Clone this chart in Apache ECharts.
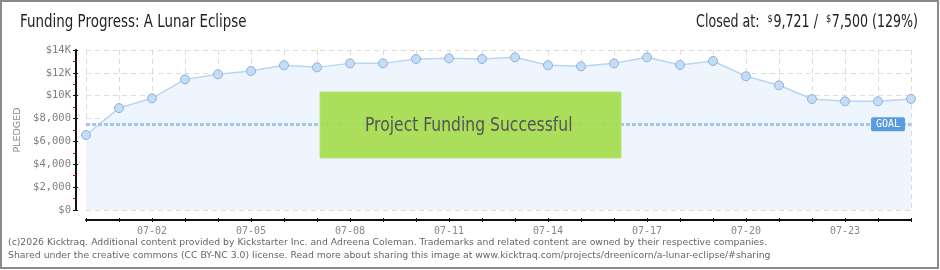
<!DOCTYPE html>
<html>
<head>
<meta charset="utf-8">
<script src="https://cdn.jsdelivr.net/npm/echarts@6/dist/echarts.min.js"></script>
<style>
html,body{margin:0;padding:0;background:#fff;overflow:hidden;}
#c{width:940px;height:270px;}
</style>
</head>
<body>
<div id="c"></div>
<script>
const categories = ['06-30','07-01','07-02','07-03','07-04','07-05','07-06','07-07','07-08','07-09','07-10','07-11','07-12','07-13','07-14','07-15','07-16','07-17','07-18','07-19','07-20','07-21','07-22','07-23','07-24','07-25'];
const pledged = [6560,8920,9770,11430,11870,12160,12660,12480,12830,12830,13210,13270,13210,13360,12660,12570,12830,13360,12690,13040,11700,10910,9710,9510,9510,9721];
const goal = 7500;
const yTickLabels = {0:'$0',2000:'$2,000',4000:'$4,000',6000:'$6,000',8000:'$8,000',10000:'$10K',12000:'$12K',14000:'$14K'};
const titleText = 'Funding Progress: A Lunar Eclipse';
const closedAmount = '9,721';
const goalAmount = '7,500';
const percent = '129%';
const statusText = 'Project Funding Successful';
const footer1 = '(c)2026 Kicktraq. Additional content provided by Kickstarter Inc. and Adreena Coleman. Trademarks and related content are owned by their respective companies.';
const footer2 = 'Shared under the creative commons (CC BY-NC 3.0) license. Read more about sharing this image at www.kicktraq.com/projects/dreenicorn/a-lunar-eclipse/#sharing';

const chart = echarts.init(document.getElementById('c'), null, {renderer:'canvas'});
const sans = '"DejaVu Sans",sans-serif';
const mono = '"DejaVu Sans Mono",monospace';

const option = {
  animation:false,
  backgroundColor:'#fff',
  grid:{left:86, top:50, width:825, height:160},
  xAxis:[{
    type:'category', data:categories, boundaryGap:false, offset:10,
    axisLine:{onZero:false, lineStyle:{color:'#111', width:2}},
    axisTick:{show:true, interval:0, length:2, lineStyle:{color:'#111'}},
    axisLabel:{interval:function(i){return i%3===2;}, fontFamily:mono, fontSize:10, color:'#888', margin:6},
    splitLine:{show:true, interval:0, lineStyle:{color:'#dcdcdc', type:[5,4]}}
  },{
    type:'category', data:categories, boundaryGap:false, offset:10, position:'bottom',
    axisLine:{show:false, onZero:false},
    axisTick:{show:true, inside:true, interval:0, length:2, lineStyle:{color:'#111'}},
    axisLabel:{show:false}, splitLine:{show:false}
  }],
  yAxis:[{
    type:'value', min:0, max:14000, interval:2000, offset:10, position:'left',
    name:'PLEDGED', nameLocation:'middle', nameGap:45, nameRotate:90,
    nameTextStyle:{fontFamily:sans, fontSize:9.5, color:'#888'},
    axisLine:{show:true, onZero:false, lineStyle:{color:'#111', width:2}},
    axisTick:{show:true, length:3, lineStyle:{color:'#111'}},
    minorTick:{show:true, splitNumber:2, length:3, lineStyle:{color:'#e00000'}},
    axisLabel:{formatter:function(v){return yTickLabels[v];}, fontFamily:mono, fontSize:10.5, color:'#808080', margin:5},
    splitLine:{show:true, lineStyle:{color:'#dcdcdc', type:[5,4]}}
  },{
    type:'value', min:0, max:14000, interval:2000, offset:10, position:'left',
    axisLine:{show:false, onZero:false},
    axisTick:{show:true, inside:true, length:2, lineStyle:{color:'#111'}},
    axisLabel:{show:false}, splitLine:{show:false}
  }],
  series:[{
    type:'line', data:pledged, xAxisIndex:0, yAxisIndex:0,
    symbol:'circle', symbolSize:9, showSymbol:true,
    lineStyle:{color:'#b8d5f4', width:1.5},
    itemStyle:{color:'#c4dcf6', borderColor:'#8fb2da', borderWidth:1},
    areaStyle:{color:'#eef5fd', opacity:1},
    markLine:{silent:true, symbol:'none', label:{show:false},
      lineStyle:{color:'#a2c6ee', width:3, type:[4,2]},
      data:[{yAxis:goal}]},
    z:2
  }]
};
chart.setOption(option);

const gp = chart.convertToPixel({gridIndex:0}, [categories.length-1, goal]);
const gx = gp[0] - 6 - 34, gy = gp[1] - 7;
chart.setOption({
  graphic:[
    {type:'text', z:100, x:20, y:23, scaleX:0.79, style:{text:titleText, fontFamily:sans, fontSize:17, fill:'#222', verticalAlign:'middle'}},
    {type:'text', z:100, x:918, y:23, scaleX:0.743, style:{text:'Closed at:  {s|$}' + closedAmount + ' /  {s|$}' + goalAmount + ' (' + percent + ')',
      fontFamily:sans, fontSize:17, fill:'#222', align:'right', verticalAlign:'middle',
      rich:{s:{fontFamily:sans, fontSize:11, fill:'#222', padding:[0,1,7,0]}}}},
    {type:'rect', z:100, shape:{x:320, y:92, width:301, height:66}, style:{fill:'#a5dc4f', stroke:'#b9e477', lineWidth:1, opacity:0.93}},
    {type:'text', z:101, x:365, y:126, scaleX:0.82, style:{text:statusText, fontFamily:sans, fontSize:19, fill:'#555', verticalAlign:'middle', textShadowColor:'#fff', textShadowOffsetX:1, textShadowOffsetY:1, textShadowBlur:0}},
    {type:'rect', z:100, shape:{x:gx, y:gy, width:34, height:14, r:2}, style:{fill:'#5a9ddf'}},
    {type:'text', z:101, x:gx+17, y:gy+7.5, style:{text:'GOAL', fontFamily:mono, fontSize:10, fill:'#fff', align:'center', verticalAlign:'middle'}},
    {type:'text', z:100, x:8, y:243, style:{text:footer1, fontFamily:sans, fontSize:9.3, fill:'#666', verticalAlign:'middle'}},
    {type:'text', z:100, x:8, y:256, style:{text:footer2, fontFamily:sans, fontSize:9.3, fill:'#666', verticalAlign:'middle'}},
    {type:'rect', z:100, shape:{x:1, y:1, width:937, height:267}, style:{fill:'none', stroke:'#8a8a8a', lineWidth:2}}
  ]
});
</script>
</body>
</html>
